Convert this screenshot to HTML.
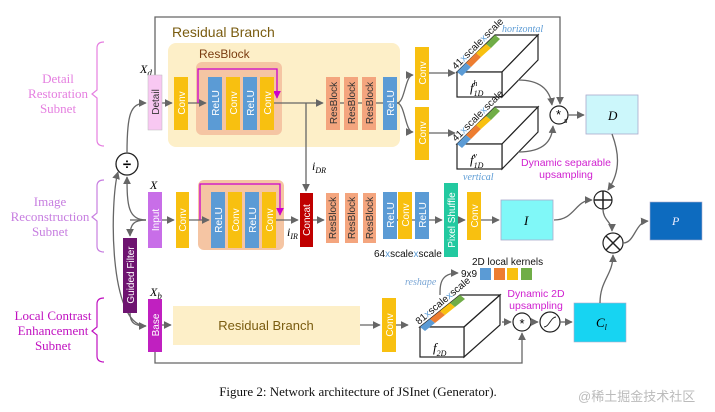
<!DOCTYPE html>
<html><head><meta charset="utf-8"><style>
html,body{margin:0;padding:0;background:#fff;}
svg{display:block;font-family:"Liberation Sans",sans-serif;}
.v{font-size:10px;fill:#fff;}
.vd{font-size:10px;fill:#333;}
.ln{stroke:#666;stroke-width:1.3;fill:none;}
</style></head><body>
<svg width="715" height="412" viewBox="0 0 715 412" xmlns="http://www.w3.org/2000/svg">
<defs>
<marker id="a" viewBox="0 0 10 10" refX="9" refY="5" markerWidth="6" markerHeight="6" orient="auto"><path d="M0,0L10,5L0,10z" fill="#666"/></marker>
<marker id="m" viewBox="0 0 10 10" refX="9" refY="5" markerWidth="6" markerHeight="6" orient="auto"><path d="M0,0L10,5L0,10z" fill="#c0c"/></marker>
</defs>

<g font-family="Liberation Serif,serif" font-size="13" text-anchor="middle">
<text x="58" y="83" fill="#e57fe0">Detail</text>
<text x="58" y="98" fill="#e57fe0">Restoration</text>
<text x="58" y="113" fill="#e57fe0">Subnet</text>
<text x="50" y="206" fill="#c77ee0">Image</text>
<text x="50" y="221" fill="#c77ee0">Reconstruction</text>
<text x="50" y="236" fill="#c77ee0">Subnet</text>
<text x="53" y="320" fill="#c010c0">Local Contrast</text>
<text x="53" y="335" fill="#c010c0">Enhancement</text>
<text x="53" y="350" fill="#c010c0">Subnet</text>
</g>
<path d="M104,42 Q97,42 97,48 L97,90 L92,94 L97,98 L97,140 Q97,146 104,146" stroke="#e57fe0" fill="none" stroke-width="1.2"/>
<path d="M104,180 Q97,180 97,186 L97,213 L92,217 L97,221 L97,246 Q97,252 104,252" stroke="#c77ee0" fill="none" stroke-width="1.2"/>
<path d="M104,298 Q97,298 97,304 L97,327 L92,331 L97,335 L97,356 Q97,362 104,362" stroke="#c010c0" fill="none" stroke-width="1.2"/>

<rect x="168" y="43" width="232" height="104" rx="8" fill="#fdefc8"/>
<text x="172" y="37" font-size="14" fill="#7a5c10">Residual Branch</text>
<rect x="196" y="62" width="86" height="73" rx="6" fill="#f5c5a3"/>
<text x="199" y="58" font-size="12" fill="#7a3c10">ResBlock</text>

<path class="ln" d="M155,75 L155,17 L560,17 L560,104" marker-end="url(#a)"/>
<text x="140" y="73" font-family="Liberation Serif,serif" font-style="italic" font-size="12">X<tspan font-size="9" dy="3">d</tspan></text>

<path class="ln" d="M162,103 L172,103" marker-end="url(#a)"/>
<path class="ln" d="M188,103 L206,103" marker-end="url(#a)"/>
<path class="ln" d="M274,103 L323,103" marker-end="url(#a)"/>
<path class="ln" d="M340,103 L344,103 M358,103 L362,103 M376,103 L383,103"/>
<path class="ln" d="M397,103 C405,103 405,75 413,75" marker-end="url(#a)"/>
<path class="ln" d="M397,103 C405,103 405,132 413,132" marker-end="url(#a)"/>
<path class="ln" d="M429,73 L455,73" marker-end="url(#a)"/>
<path class="ln" d="M429,133 L455,133" marker-end="url(#a)"/>
<path d="M198,103 L198,69 L277,69 L277,98" stroke="#c0c" fill="none" stroke-width="1.3" marker-end="url(#m)"/>

<rect x="148" y="75" width="14" height="55" fill="#f8c8f2" stroke="#bbb" stroke-width="0.5"/>
<text class="vd" transform="translate(159,102) rotate(-90)" text-anchor="middle" fill="#111">Detail</text>
<g>
<rect x="174" y="77" width="14" height="53" fill="#f8c010"/><text class="v" transform="translate(185,103) rotate(-90)" text-anchor="middle">Conv</text>
<rect x="208" y="77" width="14" height="53" fill="#5b9bd5"/><text class="v" transform="translate(219,103) rotate(-90)" text-anchor="middle">ReLU</text>
<rect x="226" y="77" width="14" height="53" fill="#f8c010"/><text class="v" transform="translate(237,103) rotate(-90)" text-anchor="middle">Conv</text>
<rect x="243" y="77" width="14" height="53" fill="#5b9bd5"/><text class="v" transform="translate(254,103) rotate(-90)" text-anchor="middle">ReLU</text>
<rect x="260" y="77" width="14" height="53" fill="#f8c010"/><text class="v" transform="translate(271,103) rotate(-90)" text-anchor="middle">Conv</text>
<rect x="326" y="77" width="14" height="53" fill="#f4a57e"/><text class="vd" transform="translate(337,103) rotate(-90)" text-anchor="middle">ResBlock</text>
<rect x="344" y="77" width="14" height="53" fill="#f4a57e"/><text class="vd" transform="translate(355,103) rotate(-90)" text-anchor="middle">ResBlock</text>
<rect x="362" y="77" width="14" height="53" fill="#f4a57e"/><text class="vd" transform="translate(373,103) rotate(-90)" text-anchor="middle">ResBlock</text>
<rect x="383" y="77" width="14" height="53" fill="#5b9bd5"/><text class="v" transform="translate(394,103) rotate(-90)" text-anchor="middle">ReLU</text>
<rect x="415" y="47" width="14" height="53" fill="#f8c010"/><text class="v" transform="translate(426,73) rotate(-90)" text-anchor="middle">Conv</text>
<rect x="415" y="107" width="14" height="53" fill="#f8c010"/><text class="v" transform="translate(426,133) rotate(-90)" text-anchor="middle">Conv</text>
</g>

<g stroke="#222" stroke-width="1.2" fill="#fff">
<path d="M457,72 L495,35 L538,35 L502,72 Z"/><path d="M502,72 L538,35 L538,60 L502,97 Z"/><rect x="457" y="72" width="45" height="25"/>
<path d="M457,144 L495,107 L538,107 L502,144 Z"/><path d="M502,144 L538,107 L538,132 L502,169 Z"/><rect x="457" y="144" width="45" height="25"/>
<path d="M420,327 L460,295 L500,295 L464,327 Z"/><path d="M464,327 L500,295 L500,325 L464,357 Z"/><rect x="420" y="327" width="44" height="30"/>
</g>
<g stroke="none">
<path d="M457,72 L466,63 L471,67 L462,76Z" fill="#5b9bd5"/><path d="M466,63 L476,53 L481,57 L471,67Z" fill="#ed7d31"/><path d="M476,53 L486,44 L491,48 L481,57Z" fill="#f8c010"/><path d="M486,44 L495,35 L500,39 L491,48Z" fill="#70ad47"/>
<path d="M457,144 L466,135 L471,139 L462,148Z" fill="#5b9bd5"/><path d="M466,135 L476,125 L481,129 L471,139Z" fill="#ed7d31"/><path d="M476,125 L486,116 L491,120 L481,129Z" fill="#f8c010"/><path d="M486,116 L495,107 L500,111 L491,120Z" fill="#70ad47"/>
<path d="M420,327 L430,319 L435,323 L425,331Z" fill="#5b9bd5"/><path d="M430,319 L440,311 L445,315 L435,323Z" fill="#ed7d31"/><path d="M440,311 L450,303 L455,307 L445,315Z" fill="#f8c010"/><path d="M450,303 L460,295 L465,299 L455,307Z" fill="#70ad47"/>
</g>
<g font-size="10" fill="#111">
<text transform="translate(456,70) rotate(-45)">41<tspan fill="#5b9bd5">x</tspan>scale<tspan fill="#5b9bd5">x</tspan>scale</text>
<text transform="translate(456,142) rotate(-45)">41<tspan fill="#5b9bd5">x</tspan>scale<tspan fill="#5b9bd5">x</tspan>scale</text>
<text transform="translate(419,325) rotate(-40)">81<tspan fill="#5b9bd5">x</tspan>scale<tspan fill="#5b9bd5">x</tspan>scale</text>
</g>
<g font-family="Liberation Serif,serif" font-style="italic" font-size="13">
<text x="470" y="92">f<tspan font-size="8" dy="4">1D</tspan><tspan font-size="8" dx="-10" dy="-10">h</tspan></text>
<text x="470" y="164">f<tspan font-size="8" dy="4">1D</tspan><tspan font-size="8" dx="-10" dy="-10">v</tspan></text>
<text x="433" y="352">f<tspan font-size="8" dy="4">2D</tspan></text>
</g>
<text x="502" y="32" font-family="Liberation Serif,serif" font-style="italic" font-size="10" fill="#5b9bd5">horizontal</text>
<text x="463" y="180" font-family="Liberation Serif,serif" font-style="italic" font-size="10" fill="#5b9bd5">vertical</text>

<path class="ln" d="M518,80 C540,80 550,90 552,105" marker-end="url(#a)"/>
<path class="ln" d="M518,152 C545,152 552,140 553,126" marker-end="url(#a)"/>
<circle cx="559" cy="115" r="9" fill="#fff" stroke="#222" stroke-width="1.2"/>
<text x="556" y="119" font-size="13">*</text><text x="564" y="123" font-size="7" font-style="italic">s</text>
<path class="ln" d="M568,115 L584,115" marker-end="url(#a)"/>
<rect x="586" y="95" width="52" height="39" fill="#ccf7fb" stroke="#aac" stroke-width="0.8"/>
<text x="608" y="120" font-family="Liberation Serif,serif" font-style="italic" font-size="13">D</text>
<text x="566" y="166" font-size="10.5" fill="#d020d0" text-anchor="middle">Dynamic separable</text>
<text x="566" y="178" font-size="10.5" fill="#d020d0" text-anchor="middle">upsampling</text>
<path class="ln" d="M612,134 C618,150 622,170 608,190" marker-end="url(#a)"/>

<rect x="198" y="180" width="86" height="70" rx="6" fill="#f5c5a3"/>
<text x="150" y="189" font-family="Liberation Serif,serif" font-style="italic" font-size="12">X</text>
<path class="ln" d="M306,103 L306,191" marker-end="url(#a)"/>
<text x="312" y="170" font-family="Liberation Serif,serif" font-style="italic" font-size="12">i<tspan font-size="8" dy="3">DR</tspan></text>
<text x="287" y="236" font-family="Liberation Serif,serif" font-style="italic" font-size="12">i<tspan font-size="8" dy="3">IR</tspan></text>
<path class="ln" d="M162,220 L174,220" marker-end="url(#a)"/>
<path class="ln" d="M189,220 L209,220" marker-end="url(#a)"/>
<path class="ln" d="M276,220 L298,220" marker-end="url(#a)"/>
<path class="ln" d="M313,220 L324,220" marker-end="url(#a)"/>
<path class="ln" d="M397,220 L442,220" marker-end="url(#a)"/>
<path class="ln" d="M458,220 L465,220" marker-end="url(#a)"/>
<path class="ln" d="M481,220 L499,220" marker-end="url(#a)"/>
<path d="M200,220 L200,184 L280,184 L280,215" stroke="#c0c" fill="none" stroke-width="1.3" marker-end="url(#m)"/>
<rect x="148" y="192" width="14" height="56" fill="#c86ee8"/><text class="v" transform="translate(159,220) rotate(-90)" text-anchor="middle">Input</text>
<rect x="176" y="192" width="13" height="56" fill="#f8c010"/><text class="v" transform="translate(186,220) rotate(-90)" text-anchor="middle">Conv</text>
<rect x="211" y="192" width="14" height="56" fill="#5b9bd5"/><text class="v" transform="translate(222,220) rotate(-90)" text-anchor="middle">ReLU</text>
<rect x="228" y="192" width="14" height="56" fill="#f8c010"/><text class="v" transform="translate(239,220) rotate(-90)" text-anchor="middle">Conv</text>
<rect x="245" y="192" width="14" height="56" fill="#5b9bd5"/><text class="v" transform="translate(256,220) rotate(-90)" text-anchor="middle">ReLU</text>
<rect x="262" y="192" width="14" height="56" fill="#f8c010"/><text class="v" transform="translate(273,220) rotate(-90)" text-anchor="middle">Conv</text>
<rect x="300" y="193" width="13" height="54" fill="#c00000"/><text class="v" transform="translate(310,220) rotate(-90)" text-anchor="middle">Concat</text>
<rect x="326" y="193" width="13" height="50" fill="#f4a57e"/><text class="vd" transform="translate(336,218) rotate(-90)" text-anchor="middle">ResBlock</text>
<rect x="345" y="193" width="13" height="50" fill="#f4a57e"/><text class="vd" transform="translate(355,218) rotate(-90)" text-anchor="middle">ResBlock</text>
<rect x="363" y="193" width="13" height="50" fill="#f4a57e"/><text class="vd" transform="translate(373,218) rotate(-90)" text-anchor="middle">ResBlock</text>
<rect x="383" y="192" width="14" height="47" fill="#5b9bd5"/><text class="v" transform="translate(394,215) rotate(-90)" text-anchor="middle">ReLU</text>
<rect x="398" y="192" width="14" height="47" fill="#f8c010"/><text class="v" transform="translate(409,215) rotate(-90)" text-anchor="middle">Conv</text>
<rect x="415" y="192" width="14" height="47" fill="#5b9bd5"/><text class="v" transform="translate(426,215) rotate(-90)" text-anchor="middle">ReLU</text>
<text x="374" y="257" font-size="10" fill="#111">64<tspan fill="#5b9bd5">x</tspan>scale<tspan fill="#5b9bd5">x</tspan>scale</text>
<rect x="444" y="183" width="14" height="74" fill="#22c9a0"/><text class="v" transform="translate(455,220) rotate(-90)" text-anchor="middle">Pixel Shuffle</text>
<rect x="467" y="192" width="14" height="48" fill="#f8c010"/><text class="v" transform="translate(478,216) rotate(-90)" text-anchor="middle">Conv</text>
<rect x="501" y="200" width="52" height="40" fill="#80f8f8" stroke="#aac" stroke-width="0.8"/>
<text x="524" y="225" font-family="Liberation Serif,serif" font-style="italic" font-size="13">I</text>

<path class="ln" d="M554,220 C575,220 575,200 592,200" marker-end="url(#a)"/>
<circle cx="603" cy="200" r="9" fill="#fff" stroke="#222" stroke-width="1.2"/>
<path d="M594,200 L612,200 M603,191 L603,209" stroke="#222" stroke-width="1.5"/>
<path class="ln" d="M603,209 C603,220 612,222 612,231" marker-end="url(#a)"/>
<circle cx="613" cy="243" r="10" fill="#fff" stroke="#222" stroke-width="1.2"/>
<path d="M606,236 L620,250 M620,236 L606,250" stroke="#222" stroke-width="1.5"/>
<path class="ln" d="M623,243 C635,243 635,222 648,221" marker-end="url(#a)"/>
<rect x="650" y="202" width="52" height="38" fill="#0d6bbf" stroke="#aac" stroke-width="0.6"/>
<text x="672" y="225" font-family="Liberation Serif,serif" font-style="italic" font-size="12" fill="#eef">P</text>

<circle cx="127" cy="164" r="11" fill="#fff" stroke="#222" stroke-width="1.3"/>
<text x="127" y="169" font-size="15" font-weight="bold" text-anchor="middle">÷</text>
<path class="ln" d="M130,220 L146,220"/>
<path class="ln" d="M146,220 C128,220 127,205 127,177" marker-end="url(#a)"/>
<path class="ln" d="M127,153 C127,115 130,103 146,103" marker-end="url(#a)"/>
<path class="ln" d="M146,220 C134,220 130,224 130,236" marker-end="url(#a)"/>
<path class="ln" d="M146,326 C108,326 110,200 118,172" marker-end="url(#a)"/>
<path class="ln" d="M130,313 C130,324 136,326 146,326" marker-end="url(#a)"/>
<rect x="123" y="238" width="14" height="75" fill="#6e1470"/><text class="v" transform="translate(134,275) rotate(-90)" text-anchor="middle">Guided Filter</text>

<text x="150" y="296" font-family="Liberation Serif,serif" font-style="italic" font-size="12">X<tspan font-size="9" dy="3">b</tspan></text>
<rect x="148" y="299" width="14" height="53" fill="#c020c0"/><text class="v" transform="translate(159,325) rotate(-90)" text-anchor="middle">Base</text>
<path class="ln" d="M162,325 L171,325" marker-end="url(#a)"/>
<rect x="173" y="306" width="187" height="39" fill="#fdefc8"/>
<text x="266" y="330" font-size="13" fill="#7a5c10" text-anchor="middle">Residual Branch</text>
<path class="ln" d="M360,325 L380,325" marker-end="url(#a)"/>
<rect x="382" y="298" width="14" height="54" fill="#f8c010"/><text class="v" transform="translate(393,325) rotate(-90)" text-anchor="middle">Conv</text>
<path class="ln" d="M396,325 L408,325" marker-end="url(#a)"/>
<path class="ln" d="M155,352 L155,363 L522,363 L522,333" marker-end="url(#a)"/>
<text x="405" y="285" font-family="Liberation Serif,serif" font-style="italic" font-size="10" fill="#7aa6d5">reshape</text>
<path class="ln" d="M440,295 C440,285 440,273 458,273" marker-end="url(#a)"/>
<text x="461" y="277" font-size="10" fill="#111">9x9</text>
<rect x="480" y="268" width="11" height="12" fill="#5b9bd5"/><rect x="494" y="268" width="11" height="12" fill="#ed7d31"/><rect x="507" y="268" width="11" height="12" fill="#f8c010"/><rect x="521" y="268" width="11" height="12" fill="#70ad47"/>
<text x="472" y="265" font-size="10" fill="#111">2D local kernels</text>
<text x="536" y="297" font-size="10.5" fill="#d020d0" text-anchor="middle">Dynamic 2D</text>
<text x="536" y="309" font-size="10.5" fill="#d020d0" text-anchor="middle">upsampling</text>
<path class="ln" d="M502,322 L511,322" marker-end="url(#a)"/>
<circle cx="522" cy="322" r="9" fill="#fff" stroke="#222" stroke-width="1.2"/>
<text x="522" y="328" font-size="13" text-anchor="middle">*</text>
<path class="ln" d="M531,322 L538,322" marker-end="url(#a)"/>
<circle cx="550" cy="322" r="10" fill="#fff" stroke="#222" stroke-width="1.2"/>
<path d="M544,327 C549,327 551,317 556,317" stroke="#222" fill="none" stroke-width="1"/>
<path class="ln" d="M560,322 L572,322" marker-end="url(#a)"/>
<rect x="574" y="303" width="52" height="39" fill="#17d4f2" stroke="#aac" stroke-width="0.6"/>
<text x="596" y="327" font-family="Liberation Serif,serif" font-style="italic" font-size="13">C<tspan font-size="8" dy="3">l</tspan></text>
<path class="ln" d="M600,303 C600,280 613,275 613,255" marker-end="url(#a)"/>

<text x="358" y="396" font-family="Liberation Serif,serif" font-size="13" text-anchor="middle" fill="#111">Figure 2: Network architecture of JSInet (Generator).</text>
<text x="578" y="401" font-family="Liberation Sans,Noto Sans CJK SC,sans-serif" font-size="13" fill="#bbb">@稀土掘金技术社区</text>
</svg>
</body></html>
